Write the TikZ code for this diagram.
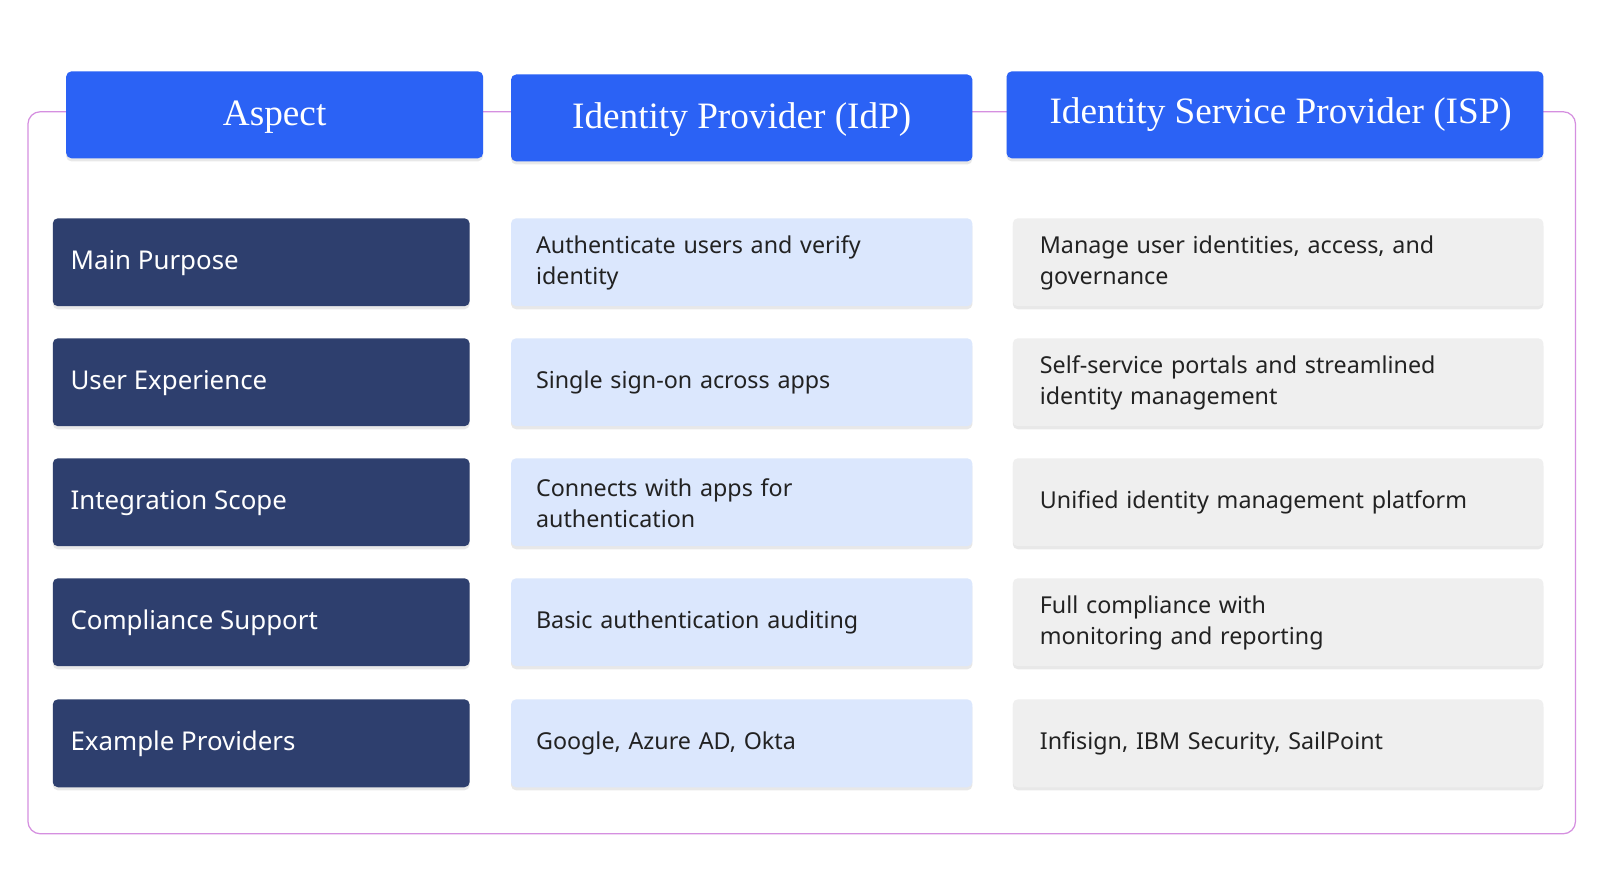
\documentclass[tikz,border=0pt]{standalone}
\usepackage{fontspec}
\setmainfont{Liberation Serif}
\newfontfamily\bodyf{Noto Sans}
\usetikzlibrary{shadows}
\definecolor{hdr}{HTML}{2B62F5}
\definecolor{dark}{HTML}{2E3F6E}
\definecolor{lblue}{HTML}{DBE7FD}
\definecolor{lgray}{HTML}{EFEFEF}
\definecolor{frame}{HTML}{D58FE0}
\definecolor{txt}{HTML}{222222}
\tikzset{
 sh/.style={drop shadow={shadow xshift=0pt,shadow yshift=-3pt,opacity=0.18}},
 hbox/.style={fill=hdr,rounded corners=5pt,sh},
 abox/.style={fill=dark,rounded corners=5pt,sh},
 ibox/.style={fill=lblue,rounded corners=5pt,sh},
 sbox/.style={fill=lgray,rounded corners=5pt,sh},
 htxt/.style={text=white,font=\fontsize{36}{40}\selectfont,inner sep=0pt},
 atxt/.style={anchor=west,text=white,font=\bodyf\bfseries\fontsize{25}{30}\selectfont,inner sep=0pt},
 btxt/.style={anchor=west,text=txt,font=\bodyf\fontsize{22.5}{30}\selectfont,align=left,text width=440pt,inner sep=0pt},
}
\begin{document}
\begin{tikzpicture}[x=1pt,y=-1pt]
\useasboundingbox[fill=white] (0,0) rectangle (1566,857);
\draw[frame,line width=1.2pt,rounded corners=12pt] (27,108) rectangle (1523,806);
\path[hbox] (64,69) rectangle (467,153);
\node[htxt] (h1) at (265.5,113) {Aspect};
\path[hbox] (494,72) rectangle (940,156);
\node[htxt] (h2) at (717,116) {Identity Provider (IdP)};
\path[hbox] (973,69) rectangle (1492,153);
\node[htxt] (h3) at (1238,111) {Identity Service Provider (ISP)};
\foreach \y/\a/\b/\c [count=\i] in {
 211/{Main Purpose}/{Authenticate users and verify\\identity}/{Manage user identities, access, and\\governance},
 327/{User Experience}/{Single sign-on across apps}/{Self-service portals and streamlined\\identity management},
 443/{Integration Scope}/{Connects with apps for\\authentication}/{Unified identity management platform},
 559/{Compliance Support}/{Basic authentication auditing}/{Full compliance with\\monitoring and reporting},
 676/{Example Providers}/{Google, Azure AD, Okta}/{Infisign, IBM Security, SailPoint}}{
 \path[abox] (51,\y) rectangle (454,\y+85);
 \node[atxt] (a\i) at (68,\y+43) {\a};
 \path[ibox] (494,\y) rectangle (940,\y+85);
 \node[btxt] (b\i) at (518,\y+43) {\b};
 \path[sbox] (979,\y) rectangle (1492,\y+85);
 \node[btxt] (c\i) at (1005,\y+43) {\c};
}
\end{tikzpicture}
\end{document}
